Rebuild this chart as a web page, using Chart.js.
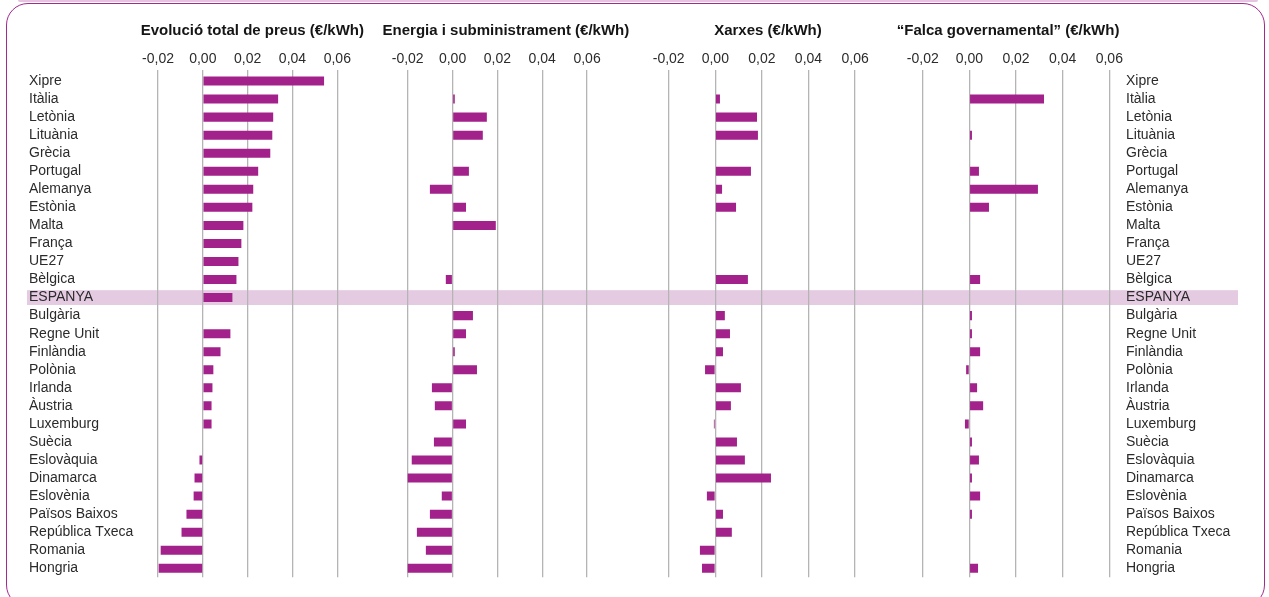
<!DOCTYPE html>
<html>
<head>
<meta charset="utf-8">
<script src="https://cdn.jsdelivr.net/npm/chart.js@4.4.1/dist/chart.umd.min.js"></script>
<style>
  html, body { margin: 0; padding: 0; background: #fff; }
  body { width: 1269px; height: 597px; position: relative; overflow: hidden; font-family: "Liberation Sans", Arial, sans-serif; }
  .box { position: absolute; left: 6px; top: 3px; width: 1259px; height: 604px; border: 1.6px solid #a3288f; border-radius: 22px; box-sizing: border-box; }
  .topline { position: absolute; left: 18px; top: 0; width: 1240px; height: 2px; background: #e6c3e0; border-radius: 0 0 6px 6px; }
  .panel { position: absolute; top: 0; height: 597px; }
</style>
</head>
<body>
<div class="topline"></div>
<div class="box"></div>
<div class="panel" style="left:20px;width:360px"><canvas id="c1"></canvas></div>
<div class="panel" style="left:380px;width:260px"><canvas id="c2"></canvas></div>
<div class="panel" style="left:640px;width:255px"><canvas id="c3"></canvas></div>
<div class="panel" style="left:895px;width:350px"><canvas id="c4"></canvas></div>
<script>
// ---------- DATA ----------
const countries = ["Xipre","Itàlia","Letònia","Lituània","Grècia","Portugal","Alemanya","Estònia","Malta","França","UE27","Bèlgica","ESPANYA","Bulgària","Regne Unit","Finlàndia","Polònia","Irlanda","Àustria","Luxemburg","Suècia","Eslovàquia","Dinamarca","Eslovènia","Països Baixos","República Txeca","Romania","Hongria"];

const totalPrice = [0.0541,0.0336,0.0314,0.0310,0.0301,0.0247,0.0225,0.0221,0.0181,0.0172,0.0159,0.0150,0.0132,null,0.0123,0.0079,0.0047,0.0043,0.0039,0.0039,null,-0.0015,-0.0037,-0.0041,-0.0073,-0.0095,-0.0188,-0.0197];

const energySupply = [null,0.0010,0.0153,0.0135,null,0.0073,-0.0101,0.0060,0.0193,null,null,-0.0030,null,0.0091,0.0060,0.0010,0.0109,-0.0092,-0.0079,0.0060,-0.0083,-0.0182,-0.0204,-0.0048,-0.0101,-0.0159,-0.0119,-0.0204];

const networks = [null,0.0020,0.0179,0.0183,null,0.0153,0.0029,0.0089,null,null,null,0.0140,null,0.0041,0.0063,0.0033,-0.0044,0.0110,0.0067,-0.0006,0.0093,0.0127,0.0239,-0.0036,0.0033,0.0071,-0.0066,-0.0057];

const govWedge = [null,0.0320,null,0.0011,null,0.0041,0.0294,0.0084,null,null,null,0.0046,null,0.0011,0.0011,0.0046,-0.0014,0.0033,0.0059,-0.0019,0.0011,0.0041,0.0011,0.0046,0.0011,null,null,0.0037];

const tickValues = [-0.02, 0.00, 0.02, 0.04, 0.06];
const titles = ["Evolució total de preus (€/kWh)", "Energia i subministrament (€/kWh)", "Xarxes (€/kWh)", "“Falca governamental” (€/kWh)"];
const highlightCountry = "ESPANYA";

// ---------- STYLE ----------
const BAR = '#a3218b';
const GRID = '#b4b4b4';
const BAND = '#e5cbe2';
const TEXT = '#2b2b2b';
const FONT = "'Liberation Sans', Arial, sans-serif";

const bandPlugin = {
  id: 'band',
  beforeDraw(chart, args, opts) {
    const y = chart.scales.y;
    const idx = countries.indexOf(highlightCountry);
    const cy = y.getPixelForValue(idx);
    const ctx = chart.ctx;
    ctx.save();
    ctx.fillStyle = BAND;
    ctx.fillRect(opts.from, cy - 7.4, opts.to - opts.from, 14.8);
    ctx.restore();
  }
};

const panelTitlePlugin = {
  id: 'panelTitle',
  afterDraw(chart, args, opts) {
    const ca = chart.chartArea;
    const ctx = chart.ctx;
    ctx.save();
    ctx.font = "bold 15px " + FONT;
    ctx.fillStyle = '#151515';
    ctx.textAlign = 'center';
    ctx.textBaseline = 'middle';
    ctx.fillText(opts.text, (ca.left + ca.right) / 2, opts.y);
    ctx.restore();
  }
};

function fmt(v) {
  const s = Math.abs(v) < 1e-9 ? '0.00' : v.toFixed(2);
  return s.replace('.', ',');
}

function makeChart(id, data, title, cfg) {
  const yScale = {
    type: 'category',
    labels: countries,
    position: cfg.yPos || 'left',
    display: cfg.yShow,
    grid: { display: false, drawTicks: false },
    border: { display: false },
    ticks: {
      color: TEXT,
      font: { family: FONT, size: 14 },
      padding: cfg.yPad || 0,
      crossAlign: cfg.yPos === 'right' ? 'near' : 'far',
      autoSkip: false
    },
    afterFit(scale) {
      if (cfg.yWidth) scale.width = cfg.yWidth;
      scale.paddingTop = 0;
      scale.paddingBottom = 0;
    }
  };
  return new Chart(document.getElementById(id), {
    type: 'bar',
    data: {
      labels: countries,
      datasets: [{
        data: data,
        backgroundColor: BAR,
        borderWidth: 0,
        barPercentage: 0.5,
        categoryPercentage: 1.0
      }]
    },
    plugins: [bandPlugin, panelTitlePlugin],
    options: {
      indexAxis: 'y',
      responsive: true,
      maintainAspectRatio: false,
      animation: false,
      layout: { padding: cfg.padding },
      plugins: {
        legend: { display: false },
        tooltip: { enabled: false },
        band: { from: cfg.bandFrom, to: cfg.bandTo },
        panelTitle: { text: title, y: 31 }
      },
      scales: {
        x: {
          type: 'linear',
          position: 'top',
          min: cfg.min,
          max: cfg.max,
          afterBuildTicks(scale) { scale.ticks = tickValues.map(v => ({ value: v })); },
          afterFit(scale) { scale.height = 72; },
          grid: { color: GRID, lineWidth: 1.3, drawTicks: true, tickLength: 2, tickColor: GRID },
          border: { display: false },
          ticks: {
            color: TEXT,
            font: { family: FONT, size: 14 },
            padding: 2,
            maxRotation: 0,
            callback: (v) => fmt(v)
          }
        },
        y: yScale
      }
    }
  });
}

makeChart('c1', totalPrice, titles[0], {
  min: -0.02, max: 0.0642, yShow: true, yPos: 'left', yWidth: 129, yPad: 0,
  padding: { left: 9, right: 33.3, top: 0, bottom: 19.7 },
  bandFrom: 7, bandTo: 360
});
makeChart('c2', energySupply, titles[1], {
  min: -0.02, max: 0.0676, yShow: false,
  padding: { left: 27.7, right: 35.9, top: 0, bottom: 19.7 },
  bandFrom: 0, bandTo: 260
});
makeChart('c3', networks, titles[2], {
  min: -0.02, max: 0.0652, yShow: false,
  padding: { left: 28.7, right: 27.8, top: 0, bottom: 19.7 },
  bandFrom: 0, bandTo: 255
});
makeChart('c4', govWedge, titles[3], {
  min: -0.0268, max: 0.06, yShow: true, yPos: 'right', yWidth: 135.7, yPad: 16.7,
  padding: { left: 11.9, right: 0, top: 0, bottom: 19.7 },
  bandFrom: 0, bandTo: 343
});
</script>
</body>
</html>
